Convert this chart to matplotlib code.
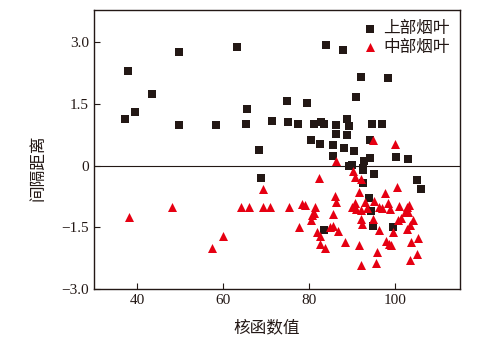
import matplotlib
matplotlib.use("Agg")
import matplotlib.pyplot as plt

# 上部烟叶 (upper leaves)
upper_x = [38.0, 37.3, 39.6, 43.5, 49.8, 49.8, 58.3, 63.2, 65.5, 65.2, 68.3, 71.4, 74.8, 75.0,
           83.8, 87.9, 92.1, 98.3, 90.9, 79.4, 77.4, 81.1, 82.8, 83.4, 86.1, 88.8, 89.2, 94.5,
           96.8, 86.1, 88.7, 80.3, 82.4, 85.5, 88.1, 90.3, 94.2, 100.1, 103.0, 85.6, 94.0, 92.6,
           89.2, 90.0, 92.4, 68.9, 92.4, 95.0, 92.4, 105.0, 105.9, 93.8, 94.3, 94.7, 99.5, 83.4]
upper_y = [2.29, 1.12, 1.30, 1.73, 2.77, 0.98, 0.99, 2.89, 1.37, 1.00, 0.37, 1.09, 1.56, 1.05,
           2.94, 2.81, 2.16, 2.14, 1.67, 1.51, 1.00, 1.00, 1.07, 1.00, 0.99, 1.14, 0.97, 1.00,
           1.00, 0.76, 0.74, 0.63, 0.53, 0.50, 0.43, 0.36, 0.62, 0.22, 0.15, 0.23, 0.19, 0.12,
           0.00, 0.01, -0.05, -0.30, -0.11, -0.21, -0.42, -0.34, -0.58, -0.80, -1.11, -1.46, -1.49, -1.57]

# 中部烟叶 (middle leaves)
middle_x = [94.9, 99.9, 86.1, 69.2, 38.2, 48.1, 64.2, 66.0, 69.2, 70.9, 75.4, 57.3, 60.05,
            82.35, 90.2, 90.6, 92.0, 91.6, 97.5, 100.3, 85.9, 86.2, 90.6, 90.0, 90.8, 91.9,
            93.0, 95.0, 93.4, 96.1, 96.9, 98.2, 98.8, 100.9, 102.6, 103.1, 102.9, 102.3,
            78.3, 79.1, 81.4, 81.0, 80.6, 80.4, 85.5, 92.1, 92.3, 94.7, 77.5, 81.8, 82.6,
            84.7, 85.6, 86.6, 88.4, 82.6, 83.7, 91.5, 92.1, 96.3, 99.5, 101.2, 100.6, 104.0,
            103.5, 102.7, 97.7, 98.5, 98.9, 103.7, 105.3, 95.7, 103.5, 105.1, 95.4]
middle_y = [0.62, 0.52, 0.10, -0.58, -1.25, -1.00, -1.00, -1.00, -1.00, -1.00, -1.00, -2.00, -1.71,
            -0.31, -0.13, -0.28, -0.33, -0.64, -0.67, -0.52, -0.73, -0.89, -0.92, -1.00, -1.05, -1.09,
            -0.89, -0.86, -1.02, -1.00, -1.03, -0.91, -1.06, -0.99, -1.00, -0.97, -1.13, -1.13,
            -0.94, -0.97, -1.00, -1.15, -1.21, -1.33, -1.17, -1.31, -1.42, -1.31, -1.49, -1.62, -1.70,
            -1.49, -1.48, -1.60, -1.86, -1.91, -2.00, -1.94, -2.42, -1.56, -1.62, -1.27, -1.33, -1.33,
            -1.45, -1.53, -1.84, -1.90, -1.94, -1.86, -1.75, -2.10, -2.29, -2.16, -2.37]

x_ticks = [40, 60, 80, 100]
y_ticks = [-3.0, -1.5, 0, 1.5, 3.0]
y_tick_labels = ["\u22123.0", "\u22121.5", "0", "1.5", "3.0"]

cjk = ["Noto Sans CJK SC", "DejaVu Sans"]
serif = ["Liberation Serif", "DejaVu Serif"]

fig = plt.figure(figsize=(5.04, 3.43), dpi=100)
ax = fig.add_axes([0.1865, 0.1574, 0.7262, 0.8134])

ax.axhline(0, color="#231815", lw=0.8, zorder=1)
ax.scatter(upper_x, upper_y, marker="s", s=30, color="#231815", linewidths=0,
           label="上部烟叶", zorder=3)
ax.scatter(middle_x, middle_y, marker="^", s=42, color="#e60012", linewidths=0,
           label="中部烟叶", zorder=3)

ax.set_xlim(30, 115)
ax.set_ylim(-3.0, 3.78)
ax.set_xticks(x_ticks)
ax.set_xticklabels([str(v) for v in x_ticks], family=serif, fontsize=11)
ax.set_yticks(y_ticks)
ax.set_yticklabels(y_tick_labels, family=serif, fontsize=11)
ax.tick_params(direction="in", length=4, width=0.8, colors="#231815")
for sp in ax.spines.values():
    sp.set_color("#231815")
    sp.set_linewidth(1.0)

ax.set_xlabel("核函数值", family=cjk, fontsize=12, color="#231815")
ax.xaxis.set_label_coords(0.473, -0.11)
ax.set_ylabel("间隔距离", family=cjk, fontsize=12, color="#231815")
ax.yaxis.set_label_coords(-0.13, 0.434)

leg = ax.legend(loc="upper right", frameon=False, prop={"family": cjk, "size": 12},
                handletextpad=0.3, labelspacing=0.1, borderaxespad=0.2, handlelength=1.0,
                markerscale=1.0)
for t in leg.get_texts():
    t.set_color("#231815")

fig.savefig("out.png", dpi=100)
